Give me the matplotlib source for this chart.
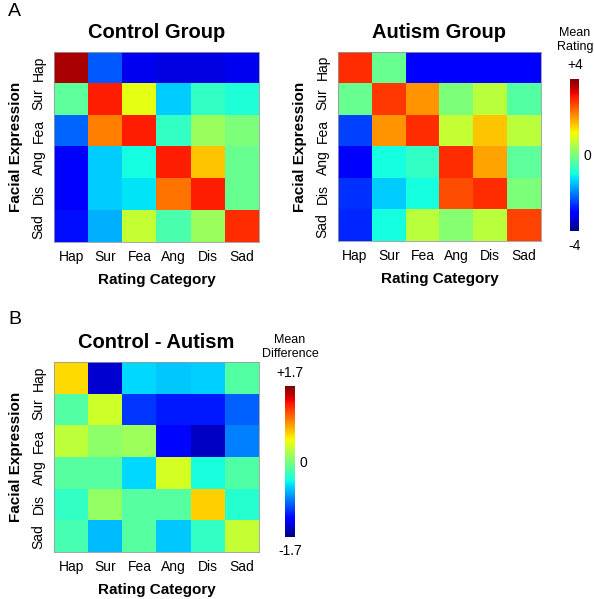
import numpy as np
import matplotlib
matplotlib.use("Agg")
import matplotlib.pyplot as plt

plt.rcParams['font.family'] = ['Liberation Sans', 'DejaVu Sans']

cats = ['Hap', 'Sur', 'Fea', 'Ang', 'Dis', 'Sad']

# rows = facial expression, cols = rating category
control = [
    [3.7, -2.3, -3.2, -3.3, -3.3, -3.2],
    [-0.3, 3.0, 1.0, -1.4, -0.7, -0.9],
    [-2.2, 2.2, 3.0, -0.7, 0.3, 0.0],
    [-3.0, -1.4, -1.0, 3.0, 1.6, -0.2],
    [-3.0, -1.4, -1.2, 2.3, 3.0, -0.2],
    [-2.9, -1.6, 0.7, -0.5, 0.3, 2.9],
]
autism = [
    [2.9, -0.2, -3.1, -3.1, -3.1, -3.1],
    [-0.2, 2.8, 2.0, 0.0, 0.6, -0.4],
    [-2.5, 2.0, 2.9, 0.7, 1.6, 0.6],
    [-3.1, -1.0, -0.7, 2.9, 1.9, -0.3],
    [-2.6, -1.4, -1.0, 2.6, 2.9, 0.0],
    [-2.7, -1.0, 0.6, 0.1, 0.6, 2.7],
]
diff = [
    [0.61, -1.46, -0.55, -0.6, -0.58, -0.17],
    [-0.17, 0.34, -1.09, -1.19, -1.19, -0.95],
    [0.27, 0.07, 0.14, -1.25, -1.5, -0.85],
    [-0.15, -0.15, -0.55, 0.36, -0.4, -0.18],
    [-0.3, 0.1, -0.15, -0.15, 0.65, -0.35],
    [-0.22, -0.65, -0.15, -0.6, -0.3, 0.3],
]

W, H = 594, 599
fig = plt.figure(figsize=(W / 100, H / 100), dpi=100)


def box(x0, y0, x1, y1):
    return [x0 / W, 1 - y1 / H, (x1 - x0) / W, (y1 - y0) / H]


def heat(rect, data, vlim, title):
    ax = fig.add_axes(rect)
    im = ax.imshow(np.array(data), cmap='jet', vmin=-vlim, vmax=vlim,
                   aspect='auto', interpolation='nearest')
    ax.set_xticks(range(6))
    ax.set_xticklabels(cats, fontsize=10)
    ax.set_yticks(range(6))
    ax.set_yticklabels(cats, fontsize=10, rotation=90, va='center')
    ax.tick_params(length=0, pad=6)
    for s in ax.spines.values():
        s.set_color('#999999')
        s.set_linewidth(0.6)
    ax.set_title(title, fontsize=14.5, fontweight='bold', pad=10)
    ax.set_xlabel('Rating Category', fontsize=11, fontweight='bold', labelpad=6)
    ax.set_ylabel('Facial Expression', fontsize=11, fontweight='bold', labelpad=6)
    return im


def cbar(im, rect, lim_lbl, title, xc, ytitle, ytop, ybot):
    cax = fig.add_axes(rect)
    cb = fig.colorbar(im, cax=cax)
    cb.outline.set_visible(False)
    cb.set_ticks([0])
    cb.set_ticklabels(['0'])
    cax.tick_params(length=0, labelsize=10, pad=3)
    fig.text(xc / W, 1 - ytitle / H, title, ha='center', va='center', fontsize=9,
             linespacing=1.2)
    fig.text(xc / W, 1 - ytop / H, '+' + lim_lbl, ha='center', va='center', fontsize=10)
    fig.text(xc / W, 1 - ybot / H, '-' + lim_lbl, ha='center', va='center', fontsize=10)


im1 = heat(box(54, 52, 259, 242), control, 4, 'Control Group')
im2 = heat(box(338, 52, 541, 241), autism, 4, 'Autism Group')
cbar(im2, box(570, 79, 579, 231), '4', 'Mean\nRating', 575, 40, 65, 246)

im3 = heat(box(54, 362, 259, 552), diff, 1.7, 'Control - Autism')
cbar(im3, box(285, 386, 295, 537), '1.7', 'Mean\nDifference', 290, 347, 373, 551)

fig.text(8 / W, 1 - 12 / H, 'A', fontsize=14, va='center', ha='left')
fig.text(8 / W, 1 - 320 / H, 'B', fontsize=14, va='center', ha='left')

fig.savefig('out.png', dpi=100)
